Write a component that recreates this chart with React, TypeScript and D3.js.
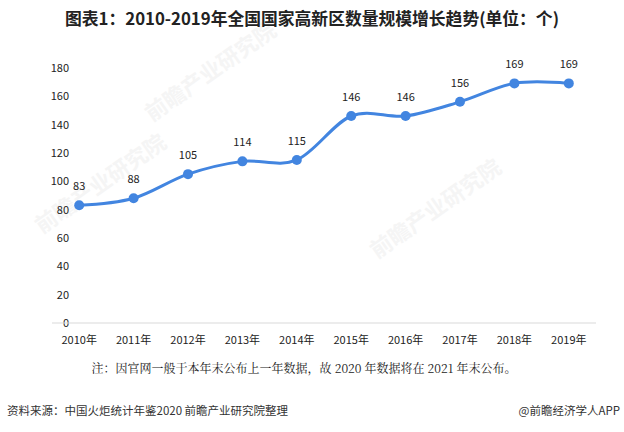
import React from "react";
import * as d3 from "d3";

const categories = ["2010年", "2011年", "2012年", "2013年", "2014年", "2015年", "2016年", "2017年", "2018年", "2019年"];
const values = [83, 88, 105, 114, 115, 146, 146, 156, 169, 169];
const yTicks = [0, 20, 40, 60, 80, 100, 120, 140, 160, 180];
const title = "图表1：2010-2019年全国国家高新区数量规模增长趋势(单位：个)";
const note = "注：因官网一般于本年末公布上一年数据，故 2020 年数据将在 2021 年末公布。";
const source = "资料来源：中国火炬统计年鉴2020 前瞻产业研究院整理";
const brand = "@前瞻经济学人APP";
const watermark = "前瞻产业研究院";

const W = 624;
const H = 432;
const CJK = "'Microsoft YaHei', 'Noto Sans CJK SC', sans-serif";

export default function App() {
  const x = d3.scaleBand<string>().domain(categories).range([52, 596]);
  const y = d3.scaleLinear().domain([0, 180]).range([323, 67.8]);
  const cx = (c: string) => (x(c) as number) + x.bandwidth() / 2;
  const pts: [number, number][] = categories.map((c, i) => [cx(c), y(values[i])]);
  const line = d3.line().curve(d3.curveCardinal.tension(0))(pts) as string;

  return (
    <svg width={W} height={H} style={{ position: "absolute", left: 0, top: 0, background: "#fff" }}>
      <rect x={0} y={0} width={W} height={H} fill="#fff" />
      {[[215, 78], [105, 190], [440, 215]].map(([wx, wy], i) => (
        <text key={i} x={wx} y={wy} transform={`rotate(-35 ${wx} ${wy})`} fontFamily={CJK} fontSize={22} fontWeight="bold" fill="#f5f5f5" textAnchor="middle">{watermark}</text>
      ))}
      <text x={W / 2} y={25} textAnchor="middle" fontFamily={CJK} fontSize={16.8} fontWeight="bold" fill="#222">{title}</text>
      {yTicks.map((t) => (
        <text key={t} x={69} y={y(t) + 4} textAnchor="end" fontFamily={CJK} fontSize={11} fill="#222">{t}</text>
      ))}
      <line x1={52} x2={596} y1={y(0)} y2={y(0)} stroke="#d9d9d9" strokeWidth={1} />
      {categories.map((c) => (
        <text key={c} x={cx(c)} y={344} textAnchor="middle" fontFamily={CJK} fontSize={11} fill="#222">{c}</text>
      ))}
      <path d={line} fill="none" stroke="#4285e0" strokeWidth={3} strokeLinecap="round" />
      {pts.map(([px, py], i) => (
        <g key={i}>
          <circle cx={px} cy={py} r={5} fill="#4285e0" />
          <text x={px} y={py - 15} textAnchor="middle" fontFamily={CJK} fontSize={11} fill="#222">{values[i]}</text>
        </g>
      ))}
      <text x={304} y={373} textAnchor="middle" fontFamily="'Noto Serif CJK SC', 'SimSun', 'Noto Sans CJK SC', serif" fontSize={12} fill="#222">{note}</text>
      <text x={7} y={415} fontFamily={CJK} fontSize={11.5} fill="#333">{source}</text>
      <text x={620} y={415} textAnchor="end" fontFamily={CJK} fontSize={11.5} fill="#333">{brand}</text>
    </svg>
  );
}
